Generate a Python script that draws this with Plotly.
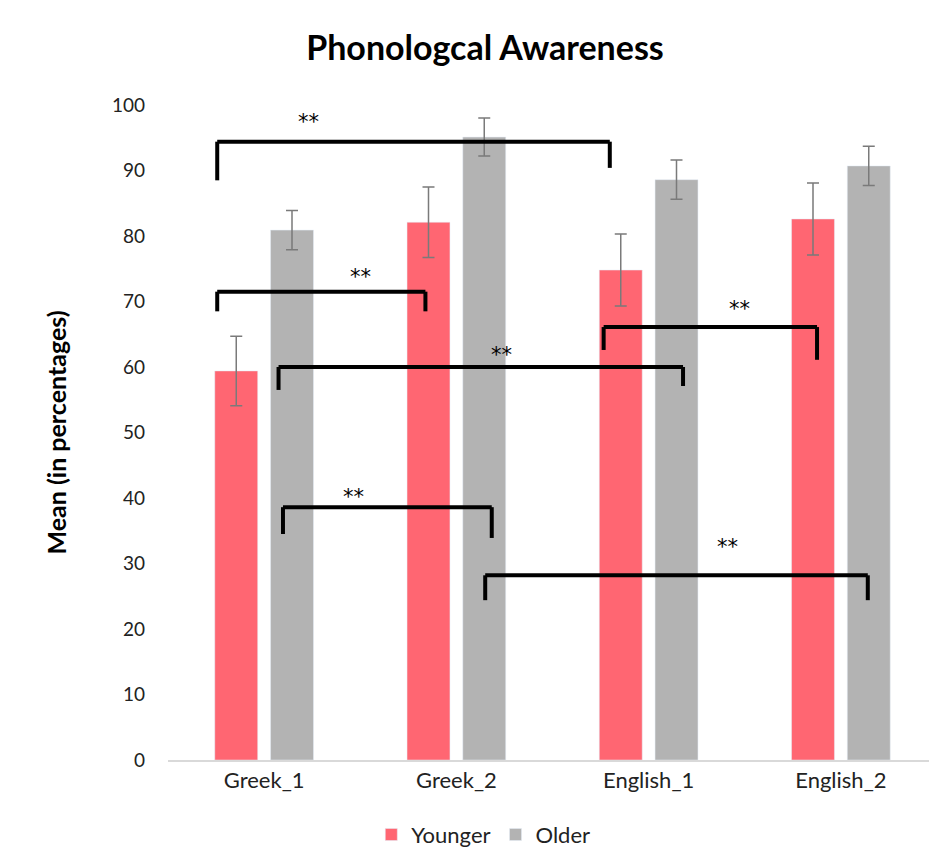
import plotly.graph_objects as go

categories = ["Greek_1", "Greek_2", "English_1", "English_2"]
younger = [59.4, 82.1, 74.8, 82.6]
younger_err = [5.3, 5.4, 5.5, 5.5]
older = [80.9, 95.1, 88.6, 90.7]
older_err = [3.0, 2.9, 3.0, 3.0]
y_ticks = [0, 10, 20, 30, 40, 50, 60, 70, 80, 90, 100]

# significance brackets: x start, x end (category index units), bar level, left leg bottom, right leg bottom
br_x0 = [-0.244, -0.244, 0.075, 1.766, 0.098, 1.150]
br_x1 = [1.798, 0.839, 2.179, 2.876, 1.184, 3.140]
br_y = [94.4, 71.5, 60.0, 66.1, 38.6, 28.2]
br_left_bottom = [88.5, 68.5, 56.5, 62.6, 34.5, 24.4]
br_right_bottom = [90.4, 68.5, 57.1, 61.1, 33.9, 24.4]
star_x = [0.233, 0.503, 1.233, 2.472, 0.466, 2.409]
star_y = [98.0, 74.4, 62.4, 69.5, 40.8, 33.1]
star_label = "**"

FONT = "Lato"
W, H = 929, 843  # page body adds an 8px offset in the 937x851 window

fig = go.Figure()
fig.add_trace(go.Bar(
    name="Younger", x=categories, y=younger, marker_color="#FF6672",
    error_y=dict(type="data", array=younger_err, color="#7A7A7A", thickness=1.5, width=6),
))
fig.add_trace(go.Bar(
    name="Older", x=categories, y=older, marker_color="#B3B3B3",
    error_y=dict(type="data", array=older_err, color="#7A7A7A", thickness=1.5, width=6),
))

shapes = []
for x0, x1, y, lb, rb in zip(br_x0, br_x1, br_y, br_left_bottom, br_right_bottom):
    line = dict(color="black", width=4)
    shapes.append(dict(type="line", xref="x", yref="y", x0=x0, x1=x1, y0=y, y1=y, line=line))
    shapes.append(dict(type="line", xref="x", yref="y", x0=x0, x1=x0, y0=y, y1=lb, line=line))
    shapes.append(dict(type="line", xref="x", yref="y", x0=x1, x1=x1, y0=y, y1=rb, line=line))

annotations = [
    dict(x=sx, y=sy, xref="x", yref="y", yshift=-4, text=star_label, showarrow=False,
         font=dict(family="DejaVu Sans", size=21, color="black"))
    for sx, sy in zip(star_x, star_y)
]

fig.update_layout(
    width=W, height=H,
    margin=dict(l=160, r=0, t=97, b=91, autoexpand=False),
    paper_bgcolor="white", plot_bgcolor="white",
    barmode="group", bargap=0.42, bargroupgap=0.23,
    font=dict(family=FONT, size=19, color="#222222"),
    title=dict(text="<b>Phonologcal Awareness</b>", x=(485 - 8) / W, xanchor="center",
               y=1 - 40 / H, yanchor="middle",
               font=dict(family=FONT, size=34, color="black")),
    xaxis=dict(range=[-0.5, 3.5], showline=True, linecolor="#D9D9D9", linewidth=1.5,
               ticks="", showgrid=False, tickangle=0, automargin=False,
               tickfont=dict(size=22, color="#222222")),
    yaxis=dict(range=[0, 100], tickvals=y_ticks, showgrid=False, zeroline=False,
               showline=False, ticks="", ticklabelstandoff=22, automargin=False,
               tickfont=dict(size=19, color="#222222"),
               title=dict(text="<b>Mean (in percentages)</b>", standoff=38,
                          font=dict(size=25, color="black"))),
    legend=dict(orientation="h", x=0.41, xanchor="center",
                y=-0.082, yanchor="top", font=dict(size=22, color="#222222")),
    shapes=shapes, annotations=annotations,
)
fig.write_html("out.html")
